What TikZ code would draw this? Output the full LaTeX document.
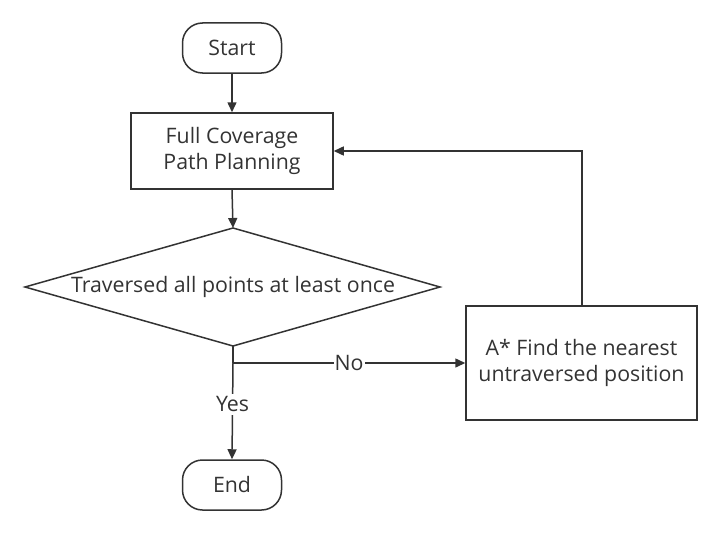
\documentclass[tikz,border=0pt]{standalone}
\usepackage{fontspec}
\setmainfont{Open Sans}
\usetikzlibrary{arrows.meta,shapes.geometric}
\definecolor{ln}{HTML}{333333}
\begin{document}
\begin{tikzpicture}[x=1pt,y=-1pt,
  every node/.style={font=\fontsize{21.3}{26}\selectfont, text=ln},
  base/.style={draw=ln, line width=1.5pt, inner sep=0pt, align=center},
  term/.style={base, rounded corners=20pt, minimum width=99pt, minimum height=50pt},
  procbox/.style={base, rectangle},
  conn/.style={draw=ln, line width=1.5pt, -{Triangle[length=10pt,width=9pt]}},
  plain/.style={draw=ln, line width=1.5pt}]
\useasboundingbox (0,0) rectangle (722,535);
\node[term] (start) at (232,48) {Start};
\node[procbox, minimum width=202pt, minimum height=76pt] (fcp) at (232,151) {Full Coverage\\Path Planning};
\coordinate (dt) at (233,228);
\coordinate (db) at (233,346);
\coordinate (dl) at (25,287);
\coordinate (dr) at (440,287);
\draw[plain] (dt) -- (dr) -- (db) -- (dl) -- cycle;
\node (dec) at (233,287) {Traversed all points at least once};
\node[term] (end) at (232,485) {End};
\node[procbox, minimum width=231pt, minimum height=114pt] (astar) at (581.5,363) {A* Find the nearest\\untraversed position};
\coordinate (br) at (233,363);
\coordinate (lp) at (582,151);
\draw[conn] (start) -- (fcp);
\draw[conn] (fcp.south) -- (dt);
\draw[plain] (db) -- (br);
\draw[conn] (br) -- node[fill=white, inner sep=1pt] {No} (astar.west);
\draw[conn] (br) -- node[fill=white, inner xsep=1pt, inner ysep=3pt, pos=0.43] {Yes} (end.north);
\draw[conn] (astar.north -| lp) -- (lp) -- (fcp.east);
\end{tikzpicture}
\end{document}
